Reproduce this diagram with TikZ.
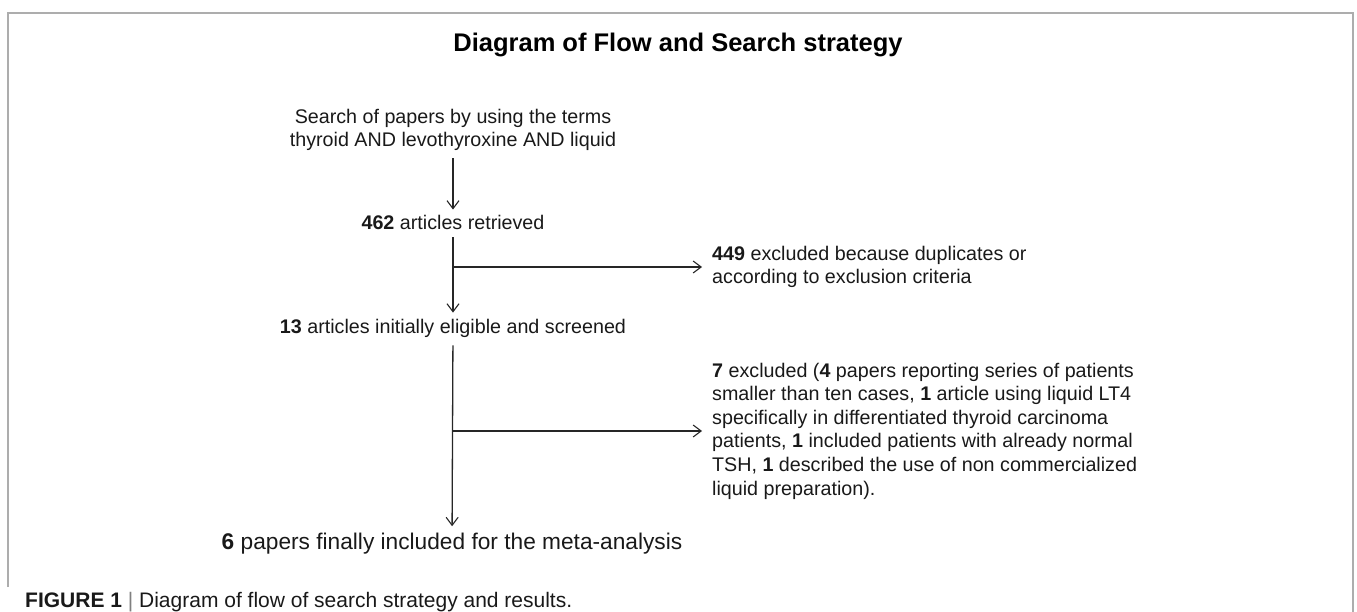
\documentclass[tikz,border=0pt]{standalone}
\usepackage{fontspec}
\setmainfont{Liberation Sans}
\usetikzlibrary{arrows.meta}
\tikzset{
  txt/.style={inner sep=0pt, font=\fontsize{19.7}{23.6}\selectfont, text=black!90},
  arr/.style={line width=1.3pt, black!85, -{Straight Barb[length=8pt,width=12pt,line width=1.1pt]}},
  frame/.style={line width=2.2pt, black!32},
}
\begin{document}
\begin{tikzpicture}[x=1pt,y=-1pt]
\useasboundingbox (0,0) rectangle (1357,612);
\draw[frame] (8,587) -- (8,13) -- (1353,13) -- (1353,612);
\node[inner sep=0pt, font=\fontsize{25.5}{30}\selectfont\bfseries] (title) at (678,45) {Diagram of Flow and Search strategy};
\node[txt, align=center] (search) at (453,130) {Search of papers by using the terms\\thyroid AND levothyroxine AND liquid};
\node[txt] (r462) at (453,222) {\textbf{462} articles retrieved};
\node[txt, align=left, anchor=west] (ex449) at (712,267) {\textbf{449} excluded because duplicates or\\according to exclusion criteria};
\node[txt] (e13) at (453,328) {\textbf{13} articles initially eligible and screened};
\node[txt, align=left, anchor=west] (ex7) at (712,431) {\textbf{7} excluded (\textbf{4} papers reporting series of patients\\smaller than ten cases, \textbf{1} article using liquid LT4\\specifically in differentiated thyroid carcinoma\\patients, \textbf{1} included patients with already normal\\TSH, \textbf{1} described the use of non commercialized\\liquid preparation).};
\node[inner sep=0pt, text=black!90, font=\fontsize{22.7}{26}\selectfont] (final) at (452,544) {\textbf{6} papers finally included for the meta-analysis};
\node[inner sep=0pt, anchor=west, text=black!90, font=\fontsize{21}{25}\selectfont] (cap) at (25,602) {\textbf{FIGURE 1} {\color{black!50}|} Diagram of flow of search strategy and results.};
\draw[arr, shorten <=7pt, shorten >=5pt] (search) -- (r462);
\draw[arr, shorten <=8pt, shorten >=6pt] (r462) -- (e13);
\draw[arr, shorten <=8pt, shorten >=7pt] (e13) -- (final);
\draw[arr, shorten >=10pt] (r462 |- ex449.west) -- (ex449.west);
\draw[arr, shorten >=10pt] (e13 |- ex7.west) -- (ex7.west);
\end{tikzpicture}
\end{document}
